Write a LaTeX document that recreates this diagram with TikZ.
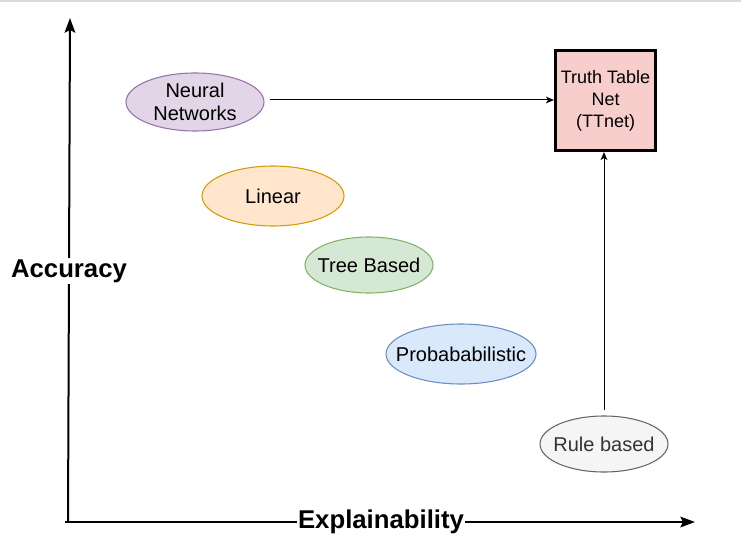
\documentclass[tikz,border=0pt]{standalone}
\usepackage{fontspec}
\setmainfont{Liberation Sans}
\usetikzlibrary{shapes.geometric,arrows.meta}
\definecolor{nnfill}{HTML}{E1D5E7}\definecolor{nndraw}{HTML}{9673A6}
\definecolor{linfill}{HTML}{FFE6CC}\definecolor{lindraw}{HTML}{D79B00}
\definecolor{trfill}{HTML}{D5E8D4}\definecolor{trdraw}{HTML}{82B366}
\definecolor{prfill}{HTML}{DAE8FC}\definecolor{prdraw}{HTML}{6C8EBF}
\definecolor{rufill}{HTML}{F5F5F5}\definecolor{rudraw}{HTML}{666666}\definecolor{rutext}{HTML}{333333}
\definecolor{ttfill}{HTML}{F8CECC}
\definecolor{topline}{HTML}{DADADA}
\newcommand\zerowd[1]{\makebox[0pt]{#1}}
\tikzset{
  model/.style={ellipse, inner sep=0pt, line width=0.8pt, font=\fontsize{15}{17.5}\selectfont, align=center},
  axis/.style={line width=1.5pt, -{Stealth[length=11pt,width=8pt,inset=2pt]}},
  conn/.style={line width=0.75pt, -{Stealth[length=6pt,width=5pt,inset=1.5pt]}},
  axlabel/.style={fill=white, inner sep=1pt, font=\fontsize{19.3}{22}\selectfont\bfseries}
}
\begin{document}
\begin{tikzpicture}[x=0.75pt,y=-0.75pt]
\useasboundingbox (0,0) rectangle (741,552);
\draw[topline, line width=1.5pt] (0,1) -- (741,1);
% axes
\coordinate (origin) at (68,522);
\coordinate (ytip) at (70,18);
\coordinate (xstart) at (65,522);
\coordinate (xtip) at (695,522);
\draw[axis] (origin) -- (ytip);
\draw[axis] (xstart) -- (xtip);
\node[axlabel] (acc) at (69,271) {Accuracy};
\node[axlabel] (expl) at (381,522) {Explainability};
% models
\node[model, fill=nnfill, draw=nndraw, minimum width=103.5pt, minimum height=43.5pt] (nn) at (195,102) {Neural\\Networks};
\node[model, fill=linfill, draw=lindraw, minimum width=106.5pt, minimum height=45pt] (lin) at (273,196) {\zerowd{Linear}};
\node[model, fill=trfill, draw=trdraw, minimum width=96pt, minimum height=42pt] (tree) at (369,265) {\zerowd{Tree Based}};
\node[model, fill=prfill, draw=prdraw, minimum width=112.5pt, minimum height=45pt] (prob) at (461,354) {\zerowd{Probababilistic}};
\node[model, fill=rufill, draw=rudraw, text=rutext, minimum width=96pt, minimum height=42pt] (rule) at (604,444) {\zerowd{Rule based}};
\node[rectangle, fill=ttfill, draw=black, line width=2.25pt, minimum width=75pt, minimum height=75pt, inner sep=0pt, align=center, font=\fontsize{13.5}{16.5}\selectfont] (tt) at (605.5,100.5) {Truth Table\\Net\\(TTnet)};
% connectors
\coordinate (nnout) at (270,100);
\coordinate (ruleout) at (604,410);
\draw[conn] (nnout) -- (tt.west |- nnout);
\draw[conn] (ruleout) -- (tt.south -| ruleout);
\end{tikzpicture}
\end{document}
